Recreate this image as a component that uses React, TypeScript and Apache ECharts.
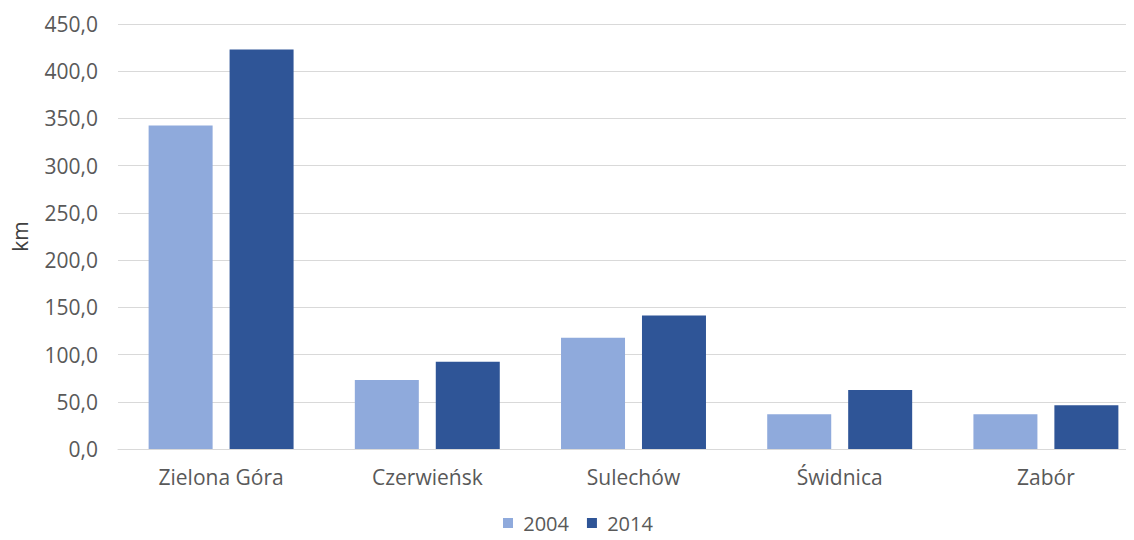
import React, { useEffect, useRef } from "react";
import * as echarts from "echarts";

const categories = ["Zielona Góra", "Czerwieńsk", "Sulechów", "Świdnica", "Zabór"];
const seriesNames = ["2004", "2014"];
const values2004 = [342.5, 73, 117.7, 36.7, 36.7];
const values2014 = [423, 92.3, 141.3, 62.4, 46.2];
const colors = ["#8faadc", "#2f5597"];

export default function App() {
  const ref = useRef<HTMLDivElement>(null);
  useEffect(() => {
    const chart = echarts.init(ref.current!, null, { renderer: "svg" });
    const font = "'Open Sans', 'Liberation Sans', sans-serif";
    chart.setOption({
      animation: false,
      textStyle: { fontFamily: font },
      legend: {
        data: seriesNames,
        top: 508,
        left: 498,
        itemWidth: 10,
        itemHeight: 10,
        itemGap: 18,
        icon: "rect",
        formatter: (name: string) => " " + name,
        textStyle: { fontSize: 20, color: "#595959", fontFamily: font },
      },
      grid: { left: 118, right: 1, top: 24, bottom: 91, containLabel: false },
      xAxis: {
        type: "category",
        data: categories,
        axisTick: { show: false },
        axisLine: { lineStyle: { color: "#d9d9d9" } },
        axisLabel: { fontSize: 21, color: "#595959", margin: 17, fontFamily: font },
      },
      yAxis: {
        type: "value",
        min: 0,
        max: 450,
        interval: 50,
        name: "km",
        nameLocation: "middle",
        nameGap: 88,
        nameRotate: 90,
        nameTextStyle: { fontSize: 21, color: "#404040", fontFamily: font },
        axisLabel: {
          fontSize: 21,
          color: "#595959",
          margin: 20,
          fontFamily: font,
          formatter: (v: number) => v.toFixed(1).replace(".", ","),
        },
        splitLine: { lineStyle: { color: "#d9d9d9" } },
        axisLine: { show: false },
        axisTick: { show: false },
      },
      series: [
        {
          name: seriesNames[0],
          type: "bar",
          data: values2004,
          itemStyle: { color: colors[0] },
          barGap: "26.5%",
          barCategoryGap: "29.7%",
        },
        {
          name: seriesNames[1],
          type: "bar",
          data: values2014,
          itemStyle: { color: colors[1] },
          barGap: "26.5%",
          barCategoryGap: "29.7%",
        },
      ],
    });
    return () => chart.dispose();
  }, []);
  return (
    <div style={{ width: 1134, height: 540, margin: -8, overflow: "hidden" }}>
      <div ref={ref} style={{ width: 1150, height: 540 }} />
    </div>
  );
}
